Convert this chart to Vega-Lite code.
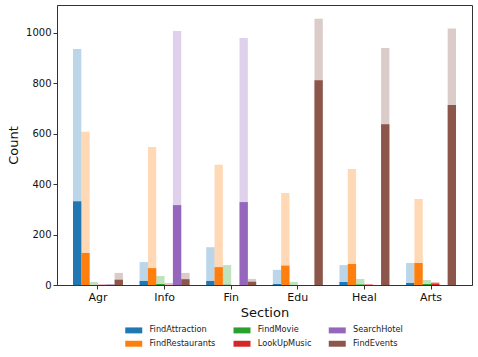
{
  "$schema": "https://vega.github.io/schema/vega-lite/v6.json",
  "width": 415,
  "height": 280,
  "autosize": {"type": "none"},
  "padding": {"left": 57, "top": 5, "right": 6, "bottom": 72},
  "background": "white",
  "config": {
    "font": "DejaVu Sans",
    "view": {"stroke": "#333", "strokeWidth": 1},
    "axis": {"domainColor": "#333", "tickColor": "#333", "labelColor": "#111", "titleColor": "#111", "grid": false, "titleFontWeight": "normal"}
  },
  "data": {
    "values": [
      {"section": "Agr", "intent": "FindAttraction", "total": 936, "subset": 332},
      {"section": "Agr", "intent": "FindRestaurants", "total": 608, "subset": 127},
      {"section": "Agr", "intent": "FindMovie", "total": 12, "subset": 0},
      {"section": "Agr", "intent": "LookUpMusic", "total": 4, "subset": 0},
      {"section": "Agr", "intent": "SearchHotel", "total": 2, "subset": 2},
      {"section": "Agr", "intent": "FindEvents", "total": 48, "subset": 21},
      {"section": "Info", "intent": "FindAttraction", "total": 91, "subset": 16},
      {"section": "Info", "intent": "FindRestaurants", "total": 548, "subset": 67},
      {"section": "Info", "intent": "FindMovie", "total": 36, "subset": 4},
      {"section": "Info", "intent": "LookUpMusic", "total": 8, "subset": 0},
      {"section": "Info", "intent": "SearchHotel", "total": 1008, "subset": 317},
      {"section": "Info", "intent": "FindEvents", "total": 48, "subset": 23},
      {"section": "Fin", "intent": "FindAttraction", "total": 150, "subset": 16},
      {"section": "Fin", "intent": "FindRestaurants", "total": 477, "subset": 71},
      {"section": "Fin", "intent": "FindMovie", "total": 79, "subset": 1},
      {"section": "Fin", "intent": "LookUpMusic", "total": 0, "subset": 0},
      {"section": "Fin", "intent": "SearchHotel", "total": 980, "subset": 329},
      {"section": "Fin", "intent": "FindEvents", "total": 24, "subset": 13},
      {"section": "Edu", "intent": "FindAttraction", "total": 60, "subset": 4},
      {"section": "Edu", "intent": "FindRestaurants", "total": 365, "subset": 77},
      {"section": "Edu", "intent": "FindMovie", "total": 12, "subset": 0},
      {"section": "Edu", "intent": "LookUpMusic", "total": 0, "subset": 0},
      {"section": "Edu", "intent": "SearchHotel", "total": 0, "subset": 0},
      {"section": "Edu", "intent": "FindEvents", "total": 1056, "subset": 812},
      {"section": "Heal", "intent": "FindAttraction", "total": 79, "subset": 12},
      {"section": "Heal", "intent": "FindRestaurants", "total": 460, "subset": 83},
      {"section": "Heal", "intent": "FindMovie", "total": 24, "subset": 2},
      {"section": "Heal", "intent": "LookUpMusic", "total": 4, "subset": 1},
      {"section": "Heal", "intent": "SearchHotel", "total": 0, "subset": 0},
      {"section": "Heal", "intent": "FindEvents", "total": 940, "subset": 638},
      {"section": "Arts", "intent": "FindAttraction", "total": 87, "subset": 8},
      {"section": "Arts", "intent": "FindRestaurants", "total": 341, "subset": 87},
      {"section": "Arts", "intent": "FindMovie", "total": 20, "subset": 4},
      {"section": "Arts", "intent": "LookUpMusic", "total": 12, "subset": 6},
      {"section": "Arts", "intent": "SearchHotel", "total": 0, "subset": 0},
      {"section": "Arts", "intent": "FindEvents", "total": 1018, "subset": 714}
    ]
  },
  "encoding": {
    "x": {
      "field": "section", "type": "nominal",
      "sort": ["Agr", "Info", "Fin", "Edu", "Heal", "Arts"],
      "scale": {"paddingInner": 0.25, "paddingOuter": 0.24},
      "axis": {"labelAngle": 0, "title": "Section", "titleFontSize": 13, "labelFontSize": 11, "tickSize": 4, "labelPadding": 2, "titlePadding": 4}
    },
    "xOffset": {
      "field": "intent", "type": "nominal",
      "sort": ["FindAttraction", "FindRestaurants", "FindMovie", "LookUpMusic", "SearchHotel", "FindEvents"],
      "scale": {"paddingInner": 0, "paddingOuter": 0}
    },
    "color": {
      "field": "intent", "type": "nominal",
      "scale": {
        "domain": ["FindAttraction", "FindRestaurants", "FindMovie", "LookUpMusic", "SearchHotel", "FindEvents"],
        "range": ["#1f77b4", "#ff7f0e", "#2ca02c", "#d62728", "#9467bd", "#8c564b"]
      },
      "legend": {
        "title": null,
        "orient": "none",
        "legendX": 72.25,
        "legendY": 320.75,
        "columns": 3,
        "padding": 0,
        "symbolType": "M-2,-0.7H2V0.7H-2Z",
        "symbolSize": 72.25,
        "symbolOpacity": 1,
        "symbolStrokeWidth": 0,
        "labelFontSize": 8.2,
        "labelColor": "#222",
        "labelOffset": 11.25,
        "columnPadding": 17.25,
        "rowPadding": 4.5
      }
    }
  },
  "layer": [
    {
      "mark": {"type": "bar", "opacity": 0.3},
      "encoding": {
        "y": {
          "field": "total", "type": "quantitative",
          "scale": {"domain": [0, 1111], "nice": false},
          "axis": {"title": "Count", "titleFontSize": 13, "labelFontSize": 10, "tickSize": 4, "labelPadding": 2, "format": "d", "values": [0, 200, 400, 600, 800, 1000], "titlePadding": 5}
        }
      }
    },
    {
      "mark": {"type": "bar", "opacity": 1},
      "encoding": {
        "y": {"field": "subset", "type": "quantitative"}
      }
    }
  ]
}
